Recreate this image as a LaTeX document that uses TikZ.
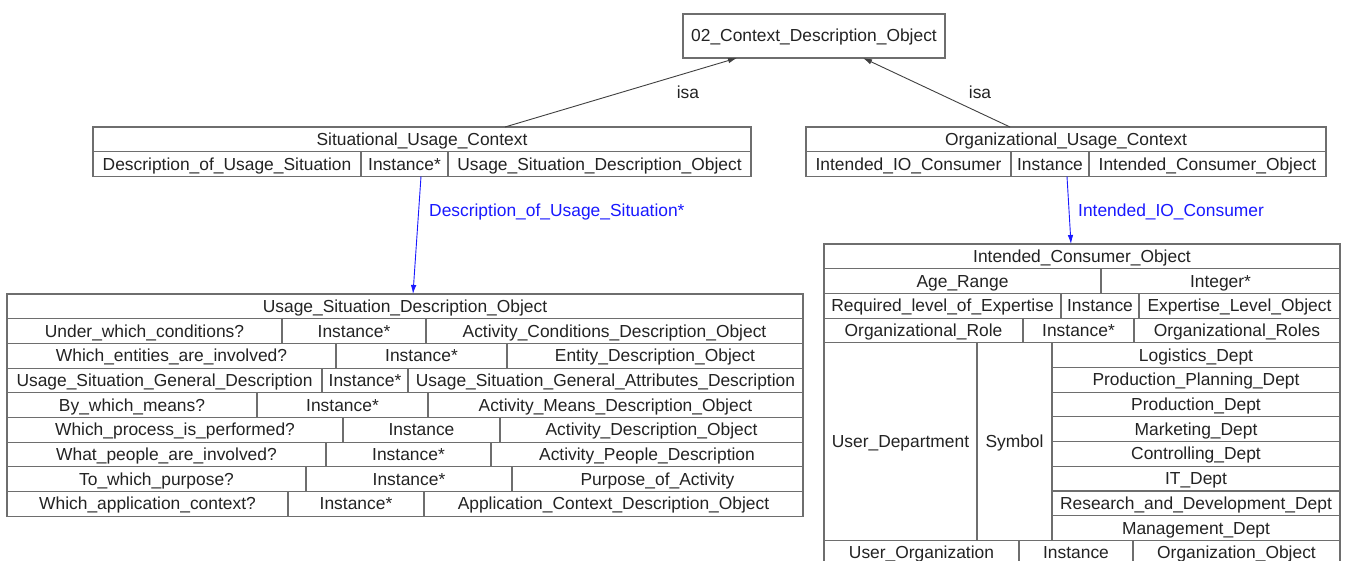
\documentclass[tikz,border=0pt]{standalone}
\usepackage{fontspec}
\setmainfont{Liberation Sans}
\usetikzlibrary{arrows.meta}
\definecolor{linec}{RGB}{110,110,110}
\definecolor{txtc}{RGB}{35,35,35}
\definecolor{edgeb}{RGB}{25,25,255}
\newcommand\cellat[6]{\node[cell, minimum width={(#4)-(#3)}, minimum height={(#6)-(#5)}] (#1) at ({((#3)+(#4))/2},{((#5)+(#6))/2}) {#2};}
\begin{document}
\begin{tikzpicture}[x=1pt,y=-1pt,
  txt/.style={font=\fontsize{17.4}{20}\selectfont, text=txtc, inner sep=0pt, text height=14pt, text depth=2pt},
  cell/.style={txt, draw=linec, line width=1.1pt, rectangle},
  isaedge/.style={draw=black!75, line width=0.9pt, -{Latex[length=9pt,width=5.5pt]}},
  slotedge/.style={draw=edgeb, line width=0.9pt, -{Latex[length=9pt,width=5.5pt]}},
  slotlabel/.style={txt, text=edgeb}]
\useasboundingbox (0,0) rectangle (1347,561);
\clip (0,0) rectangle (1347,561);
\fill[white] (0,0) rectangle (1347,561);

% top node
\cellat{cdo}{02\_Context\_Description\_Object}{683}{945}{14}{58}

% Situational_Usage_Context
\cellat{suc}{Situational\_Usage\_Context}{93}{751}{127}{151.7}
\cellat{sucA}{Description\_of\_Usage\_Situation}{93}{361}{151.7}{176.4}
\cellat{sucB}{Instance*}{361}{448}{151.7}{176.4}
\cellat{sucC}{Usage\_Situation\_Description\_Object}{448}{751}{151.7}{176.4}

% Organizational_Usage_Context
\cellat{ouc}{Organizational\_Usage\_Context}{806}{1326}{127}{151.7}
\cellat{oucA}{Intended\_IO\_Consumer}{806}{1011}{151.7}{176.4}
\cellat{oucB}{Instance}{1011}{1089}{151.7}{176.4}
\cellat{oucC}{Intended\_Consumer\_Object}{1089}{1326}{151.7}{176.4}

% Usage_Situation_Description_Object
\cellat{usdo}{Usage\_Situation\_Description\_Object}{7}{803}{294}{318.7}
\cellat{u1a}{Under\_which\_conditions?}{7}{282}{318.7}{343.4}
\cellat{u1b}{Instance*}{282}{426}{318.7}{343.4}
\cellat{u1c}{Activity\_Conditions\_Description\_Object}{426}{803}{318.7}{343.4}
\cellat{u2a}{Which\_entities\_are\_involved?}{7}{336}{343.4}{368.1}
\cellat{u2b}{Instance*}{336}{507}{343.4}{368.1}
\cellat{u2c}{Entity\_Description\_Object}{507}{803}{343.4}{368.1}
\cellat{u3a}{Usage\_Situation\_General\_Description}{7}{322}{368.1}{392.8}
\cellat{u3b}{Instance*}{322}{408}{368.1}{392.8}
\cellat{u3c}{Usage\_Situation\_General\_Attributes\_Description}{408}{803}{368.1}{392.8}
\cellat{u4a}{By\_which\_means?}{7}{257}{392.8}{417.5}
\cellat{u4b}{Instance*}{257}{428}{392.8}{417.5}
\cellat{u4c}{Activity\_Means\_Description\_Object}{428}{803}{392.8}{417.5}
\cellat{u5a}{Which\_process\_is\_performed?}{7}{343}{417.5}{442.2}
\cellat{u5b}{Instance}{343}{500}{417.5}{442.2}
\cellat{u5c}{Activity\_Description\_Object}{500}{803}{417.5}{442.2}
\cellat{u6a}{What\_people\_are\_involved?}{7}{326}{442.2}{466.9}
\cellat{u6b}{Instance*}{326}{491}{442.2}{466.9}
\cellat{u6c}{Activity\_People\_Description}{491}{803}{442.2}{466.9}
\cellat{u7a}{To\_which\_purpose?}{7}{306}{466.9}{491.6}
\cellat{u7b}{Instance*}{306}{512}{466.9}{491.6}
\cellat{u7c}{Purpose\_of\_Activity}{512}{803}{466.9}{491.6}
\cellat{u8a}{Which\_application\_context?}{7}{288}{491.6}{516.3}
\cellat{u8b}{Instance*}{288}{424}{491.6}{516.3}
\cellat{u8c}{Application\_Context\_Description\_Object}{424}{803}{491.6}{516.3}

% Intended_Consumer_Object
\cellat{ico}{Intended\_Consumer\_Object}{824}{1340}{244}{268.7}
\cellat{i1a}{Age\_Range}{824}{1101}{268.7}{293.4}
\cellat{i1b}{Integer*}{1101}{1340}{268.7}{293.4}
\cellat{i2a}{Required\_level\_of\_Expertise}{824}{1061}{293.4}{318.1}
\cellat{i2b}{Instance}{1061}{1139}{293.4}{318.1}
\cellat{i2c}{Expertise\_Level\_Object}{1139}{1340}{293.4}{318.1}
\cellat{i3a}{Organizational\_Role}{824}{1023}{318.1}{342.8}
\cellat{i3b}{Instance*}{1023}{1134}{318.1}{342.8}
\cellat{i3c}{Organizational\_Roles}{1134}{1340}{318.1}{342.8}
\cellat{i4a}{User\_Department}{824}{977}{342.8}{540.4}
\cellat{i4b}{Symbol}{977}{1052}{342.8}{540.4}
\cellat{d1}{Logistics\_Dept}{1052}{1340}{342.8}{367.5}
\cellat{d2}{Production\_Planning\_Dept}{1052}{1340}{367.5}{392.2}
\cellat{d3}{Production\_Dept}{1052}{1340}{392.2}{416.9}
\cellat{d4}{Marketing\_Dept}{1052}{1340}{416.9}{441.6}
\cellat{d5}{Controlling\_Dept}{1052}{1340}{441.6}{466.3}
\cellat{d6}{IT\_Dept}{1052}{1340}{466.3}{491}
\cellat{d7}{Research\_and\_Development\_Dept}{1052}{1340}{491}{515.7}
\cellat{d8}{Management\_Dept}{1052}{1340}{515.7}{540.4}
\cellat{i5a}{User\_Organization}{824}{1019}{540.4}{565.1}
\cellat{i5b}{Instance}{1019}{1133}{540.4}{565.1}
\cellat{i5c}{Organization\_Object}{1133}{1340}{540.4}{565.1}

% edge end points
\coordinate (sucTop) at (505,127);
\coordinate (cdoL) at (737,58);
\coordinate (oucTop) at (1010,127);
\coordinate (cdoR) at (863,58);
\coordinate (b1s) at (421,176.4);
\coordinate (b1e) at (413,294);
\coordinate (b2s) at (1067,176.4);
\coordinate (b2e) at (1071,244);

% edges
\draw[isaedge] (sucTop) -- (cdoL);
\draw[isaedge] (oucTop) -- (cdoR);
\node[txt] (isa1) at (688,93) {isa};
\node[txt] (isa2) at (980,93) {isa};
\draw[slotedge] (b1s) -- (b1e);
\draw[slotedge] (b2s) -- (b2e);
\node[slotlabel, anchor=west] (lab1) at (429,211) {Description\_of\_Usage\_Situation*};
\node[slotlabel, anchor=west] (lab2) at (1078,211) {Intended\_IO\_Consumer};
\end{tikzpicture}
\end{document}
